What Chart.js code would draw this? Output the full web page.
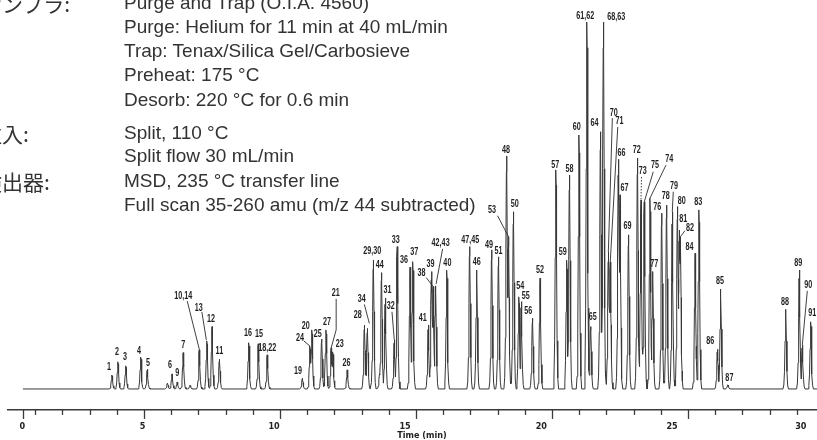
<!DOCTYPE html>
<html>
<head>
<meta charset="utf-8">
<script src="https://cdn.jsdelivr.net/npm/chart.js@4.4.1/dist/chart.umd.min.js"></script>
<style>
  body { margin: 0; background: #fff; }
  #wrap { position: relative; width: 817px; height: 440px; overflow: hidden; }
  #chrom { position: absolute; left: 0; top: 0; }
  .cond { position: absolute; left: 124px; font-family: 'Liberation Sans', Arial, sans-serif; font-size: 19px; line-height: 19px; color: #333; white-space: nowrap; }
  .jp { position: absolute; left: -19px; font-family: 'Noto Sans CJK JP', sans-serif; font-size: 21px; line-height: 21px; color: #333; white-space: nowrap; }
</style>
</head>
<body>
<div id="wrap">
  <canvas id="chrom" width="817" height="440"></canvas>
  <div class="jp" style="top:-7px">サンプラ:</div>
  <div class="jp" style="top:123px">注入:</div>
  <div class="jp" style="top:171px">検出器:</div>
  <div class="cond" style="top:-7px">Purge and Trap (O.I.A. 4560)</div>
  <div class="cond" style="top:17px">Purge: Helium for 11 min at 40 mL/min</div>
  <div class="cond" style="top:41px">Trap: Tenax/Silica Gel/Carbosieve</div>
  <div class="cond" style="top:65px">Preheat: 175 °C</div>
  <div class="cond" style="top:90px">Desorb: 220 °C for 0.6 min</div>
  <div class="cond" style="top:123px">Split, 110 °C</div>
  <div class="cond" style="top:146px">Split flow 30 mL/min</div>
  <div class="cond" style="top:171px">MSD, 235 °C transfer line</div>
  <div class="cond" style="top:195px">Full scan 35-260 amu (m/z 44 subtracted)</div>
</div>
<script>
// Peak table: compound number(s), retention time (min), relative abundance
const peakNames = ['1', '2', '3', '4', '5', '', '6', '9', '7', '', '10,14', '13', '12', '11',
  '16', '15', '18,22', '19', '24', '20', '25', '27', '21', '23', '26', '28', '34', '29,30', '',
  '44', '31', '32', '33', '36', '37', '41', '39', '38', '42,43', '40', '47,45', '46', '49', '51',
  '48', '53', '50', '54', '55', '56', '52', '57', '59', '58', '60', '61,62', '65', '64', '68,63',
  '70', '71', '66', '67', '69', '72', '73', '75', '74', '77', '76', '78', '79', '80', '81', '82',
  '84', '83', '86', '85', '87', '88', '89', '90', '91'];
const peakTimes = [3.82, 4.04, 4.33, 4.88, 5.12, 5.86, 6.03, 6.22, 6.44, 6.69, 7.03, 7.31, 7.50, 7.77,
  8.85, 9.20, 9.53, 10.82, 11.10, 11.17, 11.53, 11.69, 11.88, 11.94, 12.47, 13.10, 13.21, 13.43, 13.66,
  13.73, 13.87, 14.20, 14.31, 14.78, 14.88, 15.45, 15.57, 15.63, 15.72, 16.13, 16.97, 17.23, 17.78, 18.03,
  18.33, 18.40, 18.58, 18.78, 18.87, 19.28, 19.56, 20.14, 20.54, 20.64, 20.99, 21.28, 21.42, 21.78, 21.89,
  22.07, 22.14, 22.44, 22.50, 22.81, 23.14, 23.27, 23.39, 23.60, 23.70, 24.03, 24.21, 24.42, 24.61, 24.68, 24.72,
  25.26, 25.40, 26.08, 26.20, 26.46, 28.59, 29.09, 29.20, 29.51];
const peakHeights = [3.8, 7.4, 6.3, 8.7, 5.4, 1.6, 4.1, 1.9, 9.9, 1.0, 10.6, 13.1, 17.0, 8.1,
  12.6, 12.3, 9.3, 2.9, 11.7, 16.1, 13.6, 16.1, 11.2, 10.1, 5.2, 17.4, 16.5, 35.1, 4.1,
  31.7, 24.8, 13.4, 38.8, 33.2, 34.7, 17.4, 32.0, 27.9, 28.1, 32.4, 38.8, 32.4, 37.9, 36.0,
  63.5, 41.5, 48.3, 25.1, 23.8, 19.3, 30.2, 59.7, 35.1, 58.3, 69.2, 100, 17.0, 70.1, 100,
  37.3, 34.6, 62.6, 52.9, 42.0, 62.9, 51.5, 51.0, 52.0, 32.0, 47.9, 50.1, 48.3, 49.7, 43.3, 41.5,
  37.0, 48.8, 10.8, 27.2, 1.1, 21.7, 32.4, 12.0, 18.3];

// Time axis ticks (the printed axis puts "0" and "30" off the regular minute grid)
const tickValues = [0.55, 1, 2, 3, 4, 5, 6, 7, 8, 9, 10, 11, 12, 13, 14, 15, 16, 17, 18, 19, 20,
  21, 22, 23, 24, 25, 26, 27, 28, 29];
const majorTicks = [0.55, 5, 10, 15, 20, 25, 29];
const majorLabels = ['0', '5', '10', '15', '20', '25', '30'];
const tallTicks = [0.55, 5, 10, 15, 20, 25];
// printed tick numbers sit a little off their marks (px)
const majorLabelShift = [-0.7, -1.5, -6, -11, -10.7, -16, 4];
const axisTitle = 'Time (min)';

const traceStart = 0.55;
const traceEnd = 29.74;

// Label placement, px relative to the peak apex (default: centred just above it)
const labelOffset = {
  '1': [-3, -8], '2': [-1, -9.5], '3': [-0.7, -8.7], '4': [-1.7, -6], '5': [0.7, -6],
  '6': [-2, -9], '9': [0, -9], '7': [0, -7.7], '10,14': [-16, -54], '13': [-8, -33],
  '12': [-1, -7.7], '11': [0, -8], '16': [-0.7, -9.7], '15': [0.7, -10], '18,22': [0, -7],
  '19': [-4.3, -6.6], '24': [-10, -7.7], '20': [-6, -4], '25': [-4, -5], '27': [1, -7.3],
  '21': [4.5, -54.5], '23': [7, -7.7], '26': [-0.6, -7], '28': [-6.6, -10], '34': [-5.6, -29],
  '29,30': [-1, -9], '44': [-1.7, -7.7], '31': [2.3, -7.6], '32': [-3.6, -34], '33': [-1.4, -6.7],
  '36': [-6, -6.6], '37': [1.6, -9], '41': [-5.6, -6.7], '39': [-1, -7.7], '38': [-11.7, -13.4],
  '42,43': [5, -42.5], '40': [0.6, -6.7], '47,45': [0.7, -6.7], '46': [0, -8], '49': [-2.7, -5],
  '51': [0, -5.7], '48': [-0.7, -6], '53': [-16.4, -26], '50': [1.4, -7.7], '54': [1.3, -10.7],
  '55': [4.4, -5.7], '56': [-4.3, -7.3], '52': [0, -7.6], '57': [-0.7, -5], '59': [-4, -8.3],
  '58': [0, -6], '60': [-2.3, -8], '61,62': [-1.7, -6], '65': [2, -9], '64': [-6, -8.4],
  '68,63': [12.7, -5], '70': [5.5, -139.3], '71': [9.3, -140.3], '66': [3.2, -6], '67': [4.5, -7],
  '69': [-1, -8.3], '72': [-0.6, -7.6], '73': [1.7, -28.3], '75': [10.7, -36.7], '74': [19.3, -39.3],
  '77': [1.6, -7.7], '76': [-4.4, -6], '78': [-0.7, -9], '79': [1.7, -25.7], '80': [4.4, -5],
  '81': [4, -11], '82': [9.5, -8.4], '84': [-5.7, -6], '83': [-0.7, -7.7], '86': [-7.3, -7.6],
  '85': [-0.7, -7.6], '87': [1.6, -6.7], '88': [-0.7, -7], '89': [-1, -6.7], '90': [6, -60],
  '91': [1.6, -8.4]
};

// Leader lines, px relative to the peak apex
const leaders = {
  '10,14': [[-12, -49], [0.5, 1]],
  '13': [[-5, -29], [-0.5, -1]],
  '24': [[-6, -5], [0, 0]],
  '21': [[5, -49], [5, -18], [0, 0]],
  '34': [[-3, -24], [2, -5]],
  '32': [[-2.3, -28], [0, 0]],
  '38': [[-7, -9], [0, 0]],
  '42,43': [[7, -37], [0.5, -2]],
  '53': [[-11, -21], [0, 0]],
  '70': [[4, -134], [0, 0]],
  '71': [[7.5, -135], [0, 0]],
  '73': [[0.5, -23], [0, 0]],
  '75': [[9, -30], [0, 0]],
  '74': [[16, -33], [0, 0]],
  '79': [[1, -20], [0, 0]],
  '82': [[4.5, -6], [0, 0]],
  '90': [[5, -54], [0, 0]]
};
const dottedLeaders = ['73'];

// Peak profile: offset from apex (min) and fraction of apex height
const peakShape = [[-0.1, 0], [-0.07, 0.05], [-0.045, 0.22], [-0.025, 0.6], [-0.01, 0.93], [0, 1],
  [0.01, 0.93], [0.025, 0.6], [0.045, 0.22], [0.07, 0.05], [0.1, 0]];

function peakAt(i, t) {
  const d = t - peakTimes[i];
  if (d <= peakShape[0][0] || d >= peakShape[peakShape.length - 1][0]) return 0;
  for (let k = 1; k < peakShape.length; k++) {
    if (d <= peakShape[k][0]) {
      const [x0, y0] = peakShape[k - 1];
      const [x1, y1] = peakShape[k];
      return peakHeights[i] * (y0 + (y1 - y0) * (d - x0) / (x1 - x0));
    }
  }
  return 0;
}

// Sample the trace on the profile points of every peak; co-eluting peaks take the larger signal
const sampleSet = new Set([traceStart, traceEnd]);
peakTimes.forEach(function(t) {
  peakShape.forEach(function(s) { sampleSet.add(+(t + s[0]).toFixed(4)); });
});
const trace = [...sampleSet]
  .filter(function(v) { return v >= traceStart && v <= traceEnd; })
  .sort(function(a, b) { return a - b; })
  .map(function(v) {
    let y = 0;
    for (let i = 0; i < peakTimes.length; i++) y = Math.max(y, peakAt(i, v));
    return { x: v, y: y };
  });

const axisFont = '"Liberation Sans Narrow", "DejaVu Sans Condensed", "Liberation Sans", sans-serif';

const peakLabels = {
  id: 'peakLabels',
  afterDatasetsDraw(chart) {
    const ctx = chart.ctx;
    const xs = chart.scales.x, ys = chart.scales.y;
    ctx.save();
    ctx.font = 'bold 10px "Liberation Sans", Arial, sans-serif';
    ctx.textAlign = 'center';
    ctx.textBaseline = 'middle';
    ctx.fillStyle = '#1e1e1e';
    ctx.strokeStyle = '#2a2a2a';
    ctx.lineWidth = 0.9;
    peakNames.forEach(function(name, i) {
      if (!name) return;
      const px = xs.getPixelForValue(peakTimes[i]);
      const py = ys.getPixelForValue(peakHeights[i]);
      const lead = leaders[name];
      if (lead) {
        ctx.setLineDash(dottedLeaders.includes(name) ? [1.5, 1.5] : []);
        ctx.beginPath();
        lead.forEach(function(p, k) {
          if (k === 0) ctx.moveTo(px + p[0], py + p[1]);
          else ctx.lineTo(px + p[0], py + p[1]);
        });
        ctx.stroke();
        ctx.setLineDash([]);
      }
      const off = labelOffset[name] || [0, -7];
      ctx.save();
      ctx.translate(px + off[0], py + off[1]);
      ctx.scale(0.72, 1);
      ctx.fillText(name, 0, 0);
      ctx.restore();
    });
    ctx.restore();
  }
};

// Minute ticks hanging below the axis line (longer at the numbered ones), tick numbers and title
const timeTicks = {
  id: 'timeTicks',
  afterDraw(chart) {
    const ctx = chart.ctx;
    const xs = chart.scales.x;
    ctx.save();
    ctx.strokeStyle = '#3a3a3a';
    ctx.lineWidth = 1.3;
    tickValues.forEach(function(v) {
      const px = Math.round(xs.getPixelForValue(v)) + 0.5;
      const len = tallTicks.includes(v) ? 9 : 5;
      ctx.beginPath();
      ctx.moveTo(px, xs.top);
      ctx.lineTo(px, xs.top + len);
      ctx.stroke();
    });
    ctx.fillStyle = '#222';
    ctx.textAlign = 'center';
    ctx.textBaseline = 'middle';
    ctx.font = 'bold 9px ' + axisFont;
    majorTicks.forEach(function(v, k) {
      ctx.fillText(majorLabels[k], xs.getPixelForValue(v) + majorLabelShift[k], xs.top + 17);
    });
    ctx.fillText(axisTitle, xs.getPixelForValue(15) + 6, xs.top + 25.7);
    ctx.restore();
  }
};

new Chart(document.getElementById('chrom'), {
  type: 'line',
  data: {
    datasets: [{
      data: trace,
      borderColor: '#383838',
      borderWidth: 1,
      pointRadius: 0,
      tension: 0,
      fill: false
    }]
  },
  options: {
    responsive: false,
    animation: false,
    devicePixelRatio: 1,
    layout: { padding: { left: 8, right: 0, top: 0, bottom: 0 } },
    plugins: { legend: { display: false }, tooltip: { enabled: false } },
    scales: {
      x: {
        type: 'linear',
        min: 0,
        max: 29.74,
        afterBuildTicks: function(scale) {
          scale.ticks = tickValues.map(function(v) { return { value: v }; });
        },
        grid: { drawOnChartArea: false, drawTicks: true, tickLength: 12.5, tickColor: 'rgba(0,0,0,0)' },
        border: { display: true, color: '#3a3a3a', width: 1.5 },
        // space for the numbers and title, which the timeTicks plugin draws
        ticks: {
          autoSkip: false,
          maxRotation: 0,
          padding: 0,
          color: 'rgba(0,0,0,0)',
          font: { family: axisFont, size: 9, weight: 'bold', lineHeight: 1 },
          callback: function(v) {
            const k = majorTicks.indexOf(v);
            return k < 0 ? '' : majorLabels[k];
          }
        },
        title: {
          display: true,
          text: axisTitle,
          color: 'rgba(0,0,0,0)',
          padding: { top: 0, bottom: 0 },
          font: { family: axisFont, size: 9, weight: 'bold', lineHeight: 0.95 }
        }
      },
      y: {
        display: false,
        min: -5.72,
        max: 106
      }
    }
  },
  plugins: [peakLabels, timeTicks]
});
</script>
</body>
</html>
